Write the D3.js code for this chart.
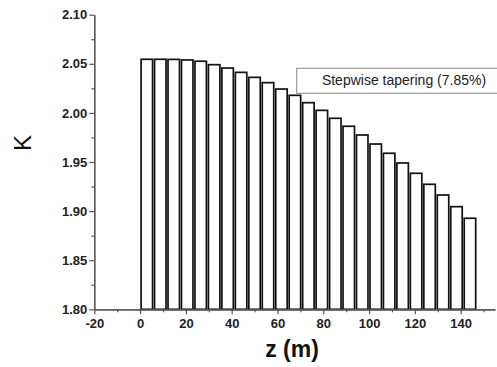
<!DOCTYPE html>
<html>
<head>
<meta charset="utf-8">
<script src="https://cdn.jsdelivr.net/npm/d3@7/dist/d3.min.js"></script>
<style>
  html, body { margin: 0; padding: 0; background: #fff; }
  svg { display: block; }
</style>
</head>
<body>
<svg id="chart" width="497" height="367"></svg>
<script>
// Data
const zStart = [0, 5.88, 11.76, 17.64, 23.52, 29.4, 35.28, 41.16, 47.04, 52.92,
  58.8, 64.68, 70.56, 76.44, 82.32, 88.2, 94.08, 99.96, 105.84, 111.72,
  117.6, 123.48, 129.36, 135.24, 141.12];
const zEnd = [5.88, 11.76, 17.64, 23.52, 29.4, 35.28, 41.16, 47.04, 52.92, 58.8,
  64.68, 70.56, 76.44, 82.32, 88.2, 94.08, 99.96, 105.84, 111.72, 117.6,
  123.48, 129.36, 135.24, 141.12, 147];
const kValues = [2.0546, 2.0546, 2.0545, 2.0539, 2.0526, 2.0491, 2.0457, 2.0413, 2.0362, 2.0308,
  2.0243, 2.0179, 2.0104, 2.0026, 1.9945, 1.9864, 1.9775, 1.9683, 1.9589, 1.9490,
  1.9385, 1.9273, 1.9164, 1.9045, 1.8927];
const xTicks = [-20, 0, 20, 40, 60, 80, 100, 120, 140];
const xTickLabels = ["-20", "0", "20", "40", "60", "80", "100", "120", "140"];
const xMinorTicks = [-10, 10, 30, 50, 70, 90, 110, 130, 150];
const yTicks = [1.80, 1.85, 1.90, 1.95, 2.00, 2.05, 2.10];
const yTickLabels = ["1.80", "1.85", "1.90", "1.95", "2.00", "2.05", "2.10"];
const yMinorTicks = [1.825, 1.875, 1.925, 1.975, 2.025, 2.075];
const legendLabel = "Stepwise tapering (7.85%)";
const xTitle = "z (m)";
const yTitle = "K";

const svg = d3.select("#chart");
const x = d3.scaleLinear().domain([-20, 155]).range([94.3, 495]);
const y = d3.scaleLinear().domain([1.80, 2.10]).range([309.3, 14.7]);

const bars = zStart.map((z0, i) => ({ z0, z1: zEnd[i], k: kValues[i] }));

// Bars
svg.append("g")
  .selectAll("rect")
  .data(bars)
  .join("rect")
  .attr("x", d => x(d.z0) + 1)
  .attr("width", d => x(d.z1) - x(d.z0) - 2)
  .attr("y", d => y(d.k))
  .attr("height", d => y(1.80) - y(d.k))
  .attr("fill", "#fff")
  .attr("stroke", "#111")
  .attr("stroke-width", 1.7);

const axisColor = "#555";
const labelFont = "Arial, 'Liberation Sans', sans-serif";

// X axis
const gx = svg.append("g").attr("transform", `translate(0,${y(1.80)})`);
gx.call(d3.axisBottom(x).tickValues(xTicks)
  .tickFormat((d, i) => xTickLabels[i]).tickSize(5).tickSizeOuter(0));
gx.append("g").call(d3.axisBottom(x).tickValues(xMinorTicks).tickFormat("").tickSize(3).tickSizeOuter(0));

// Y axis
const gy = svg.append("g").attr("transform", `translate(${x(-20)},0)`);
gy.call(d3.axisLeft(y).tickValues(yTicks)
  .tickFormat((d, i) => yTickLabels[i]).tickSize(5).tickSizeOuter(0));
gy.append("g").call(d3.axisLeft(y).tickValues(yMinorTicks).tickFormat("").tickSize(3).tickSizeOuter(0));

svg.selectAll(".domain").attr("stroke", axisColor).attr("stroke-width", 1.2);
svg.selectAll(".tick line").attr("stroke", axisColor).attr("stroke-width", 1.2);
gx.selectAll(".tick text")
  .attr("font-family", labelFont).attr("font-size", 13).attr("font-weight", "bold")
  .attr("fill", "#222").attr("dy", "0.9em").attr("y", 7);
gy.selectAll(".tick text")
  .attr("font-family", labelFont).attr("font-size", 13).attr("font-weight", "bold")
  .attr("fill", "#222").attr("x", -7);

// Axis titles
svg.append("text")
  .attr("x", 292).attr("y", 357)
  .attr("text-anchor", "middle")
  .attr("font-family", labelFont).attr("font-size", 23).attr("font-weight", "bold")
  .attr("fill", "#111")
  .text(xTitle);

svg.append("text")
  .attr("transform", "translate(31,143) rotate(-90)")
  .attr("text-anchor", "middle")
  .attr("font-family", labelFont).attr("font-size", 24)
  .attr("fill", "#111")
  .text(yTitle);

// Legend
svg.append("rect")
  .attr("x", 296.7).attr("y", 68.3)
  .attr("width", 215).attr("height", 25)
  .attr("fill", "#fff")
  .attr("stroke", "#999").attr("stroke-width", 1.2);
svg.append("text")
  .attr("x", 404).attr("y", 85)
  .attr("text-anchor", "middle")
  .attr("font-family", labelFont).attr("font-size", 14)
  .attr("fill", "#222")
  .text(legendLabel);
</script>
</body>
</html>
